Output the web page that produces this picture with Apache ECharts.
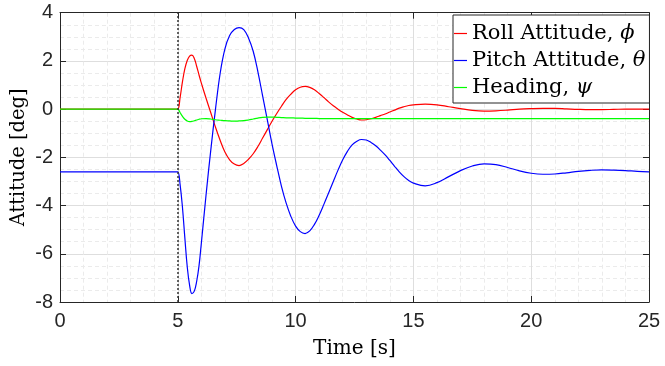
<!DOCTYPE html>
<html>
<head>
<meta charset="utf-8">
<script src="https://cdn.jsdelivr.net/npm/echarts@6/dist/echarts.min.js"></script>
<style>
  html, body {margin: 0; padding: 0; background: #fff;}
  #chart {width: 665px; height: 366px;}
</style>
</head>
<body>
<div id="chart"></div>
<script>
// time samples [s], shared by all three series
const time = [0, 4.9,
  5.0, 5.1, 5.2, 5.3, 5.4, 5.5, 5.6, 5.7, 5.8, 5.9, 6.0,
  6.2, 6.4, 6.6, 6.8, 7.0, 7.2, 7.4, 7.6, 7.8, 8.0,
  8.2, 8.4, 8.6, 8.8, 9.0, 9.2, 9.4, 9.6, 9.8, 10.0,
  10.2, 10.4, 10.6, 10.8, 11.0, 11.2, 11.4, 11.6, 11.8, 12.0,
  12.2, 12.4, 12.6, 12.8, 13.0, 13.2, 13.4, 13.6, 13.8, 14.0,
  14.2, 14.4, 14.6, 14.8, 15.0,
  15.5, 16.0, 16.5, 17.0, 17.5, 18.0, 18.5, 19.0, 19.5, 20.0,
  20.5, 21.0, 21.5, 22.0, 22.5, 23.0, 23.5, 24.0, 24.5, 25.0]

// attitude [deg]
const roll = [0, 0,
  0, 0.5, 1.15, 1.68, 2.02, 2.2, 2.24, 2.1, 1.78, 1.42, 1.08,
  0.45, -0.15, -0.75, -1.3, -1.78, -2.1, -2.28, -2.34, -2.25, -2.08,
  -1.85, -1.55, -1.2, -0.85, -0.5, -0.18, 0.12, 0.4, 0.62, 0.8,
  0.91, 0.94, 0.9, 0.8, 0.65, 0.48, 0.3, 0.14, 0.0, -0.13,
  -0.24, -0.34, -0.41, -0.45, -0.44, -0.4, -0.34, -0.27, -0.2, -0.12,
  -0.04, 0.04, 0.1, 0.15, 0.18,
  0.21, 0.18, 0.1, 0.02, -0.05, -0.08, -0.07, -0.04, 0, 0.02,
  0.03, 0.03, 0.01, -0.01, -0.02, -0.02, -0.01, 0, 0, 0]

const pitch = [-2.6, -2.6,
  -2.6, -3.15, -4.1, -5.35, -6.53, -7.3, -7.65, -7.55, -7.15, -6.5, -5.55,
  -3.55, -1.7, 0.0, 1.5, 2.5, 3.05, 3.3, 3.38, 3.3, 2.95,
  2.4, 1.55, 0.55, -0.45, -1.45, -2.35, -3.2, -3.9, -4.45, -4.85,
  -5.08, -5.16, -5.05, -4.78, -4.4, -3.95, -3.48, -3.0, -2.53, -2.1,
  -1.75, -1.48, -1.33, -1.26, -1.28, -1.38, -1.52, -1.7, -1.9, -2.13,
  -2.37, -2.6, -2.8, -2.96, -3.07,
  -3.18, -3.05, -2.8, -2.55, -2.36, -2.27, -2.3, -2.42, -2.56, -2.66,
  -2.7, -2.69, -2.64, -2.58, -2.54, -2.52, -2.53, -2.55, -2.58, -2.6]

const heading = [0, 0,
  0, -0.15, -0.3, -0.42, -0.49, -0.52, -0.51, -0.48, -0.45, -0.42, -0.4,
  -0.39, -0.41, -0.44, -0.46, -0.48, -0.49, -0.5, -0.49, -0.48, -0.45,
  -0.41, -0.37, -0.34, -0.33, -0.33, -0.34, -0.35, -0.36, -0.36, -0.37,
  -0.37, -0.38, -0.38, -0.38, -0.39, -0.39, -0.39, -0.39, -0.39, -0.39,
  -0.39, -0.39, -0.39, -0.39, -0.39, -0.39, -0.39, -0.39, -0.39, -0.39,
  -0.39, -0.39, -0.39, -0.39, -0.39,
  -0.39, -0.39, -0.39, -0.39, -0.39, -0.39, -0.39, -0.39, -0.39, -0.39,
  -0.39, -0.39, -0.39, -0.39, -0.39, -0.39, -0.39, -0.39, -0.39, -0.39]

const seriesNames = ['Roll Attitude, ϕ', 'Pitch Attitude, θ', 'Heading, ψ']
const seriesColors = ['#ff0000', '#0000ff', '#00ff00']
const stepTime = 5

const serif = 'DejaVu Serif'
const sans = 'Liberation Sans'
const axisColor = '#262626'

const pairs = (vs) => time.map((t, i) => [t, vs[i]])

const chart = echarts.init(document.getElementById('chart'))

const mainX = {
  type: 'value', min: 0, max: 25, interval: 5,
  name: 'Time [s]', nameLocation: 'middle', nameGap: 37, nameMoveOverlap: false,
  nameTextStyle: {fontFamily: serif, fontSize: 20, color: '#000'},
  axisLine: {onZero: false, lineStyle: {color: axisColor, width: 1}},
  axisTick: {inside: true, length: 6, lineStyle: {color: axisColor}},
  axisLabel: {fontFamily: sans, fontSize: 20, color: axisColor, margin: 9},
  splitLine: {lineStyle: {color: '#dedede', width: 1}},
  minorTick: {show: false, splitNumber: 5},
  minorSplitLine: {show: true, lineStyle: {color: '#ebebeb', type: [4, 3]}}
}
const mainY = {
  type: 'value', min: -8, max: 4, interval: 2,
  name: 'Attitude [deg]', nameLocation: 'middle', nameGap: 31, nameMoveOverlap: false,
  nameTextStyle: {fontFamily: serif, fontSize: 19.5, color: '#000'},
  axisLine: {onZero: false, lineStyle: {color: axisColor, width: 1}},
  axisTick: {inside: true, length: 6, lineStyle: {color: axisColor}},
  axisLabel: {fontFamily: sans, fontSize: 20, color: axisColor, margin: 7},
  splitLine: {lineStyle: {color: '#dedede', width: 1}},
  minorTick: {show: false, splitNumber: 4},
  minorSplitLine: {show: true, lineStyle: {color: '#ebebeb', type: [4, 3]}}
}
// box edges on top and right, ticks only
const boxX = {
  type: 'value', min: 0, max: 25, interval: 5, position: 'top',
  axisLine: {onZero: false, lineStyle: {color: axisColor, width: 1}},
  axisTick: {inside: true, length: 6, lineStyle: {color: axisColor}},
  axisLabel: {show: false}, splitLine: {show: false}
}
const boxY = {
  type: 'value', min: -8, max: 4, interval: 2, position: 'right',
  axisLine: {onZero: false, lineStyle: {color: axisColor, width: 1}},
  axisTick: {inside: true, length: 6, lineStyle: {color: axisColor}},
  axisLabel: {show: false}, splitLine: {show: false}
}

const lineSeries = (name, color, data) => ({
  name, type: 'line', data, smooth: 0.4, smoothConstraint: false, symbol: 'none',
  lineStyle: {color, width: 1.2}, itemStyle: {color}
})

const series = [
  lineSeries(seriesNames[0], seriesColors[0], pairs(roll)),
  lineSeries(seriesNames[1], seriesColors[1], pairs(pitch)),
  lineSeries(seriesNames[2], seriesColors[2], pairs(heading))
]
series[0].markLine = {
  symbol: 'none', silent: true, animation: false,
  label: {show: false},
  lineStyle: {color: '#333', width: 1.5, type: [2, 2]},
  data: [{xAxis: stepTime}]
}

chart.setOption({
  animation: false,
  backgroundColor: '#fff',
  grid: {left: 60, right: 16, top: 12.7, bottom: 64, outerBoundsMode: 'none'},
  xAxis: [mainX, boxX],
  yAxis: [mainY, boxY],
  legend: {
    orient: 'vertical', left: 453, top: 15,
    backgroundColor: '#fff', borderColor: axisColor, borderWidth: 1,
    padding: [8, 4, 5, 1], itemGap: 6,
    icon: 'rect', itemWidth: 13, itemHeight: 1.2,
    data: seriesNames,
    formatter: (name) => {
      const parts = name.split(', ')
      return '{r|' + parts[0] + ', }{i|' + parts[1] + '}'
    },
    textStyle: {
      fontFamily: serif, fontSize: 21, color: '#000',
      rich: {
        r: {fontFamily: serif, fontSize: 21, color: '#000'},
        i: {fontFamily: serif, fontSize: 21, fontStyle: 'italic', color: '#000'}
      }
    }
  },
  series
})
</script>
</body>
</html>
